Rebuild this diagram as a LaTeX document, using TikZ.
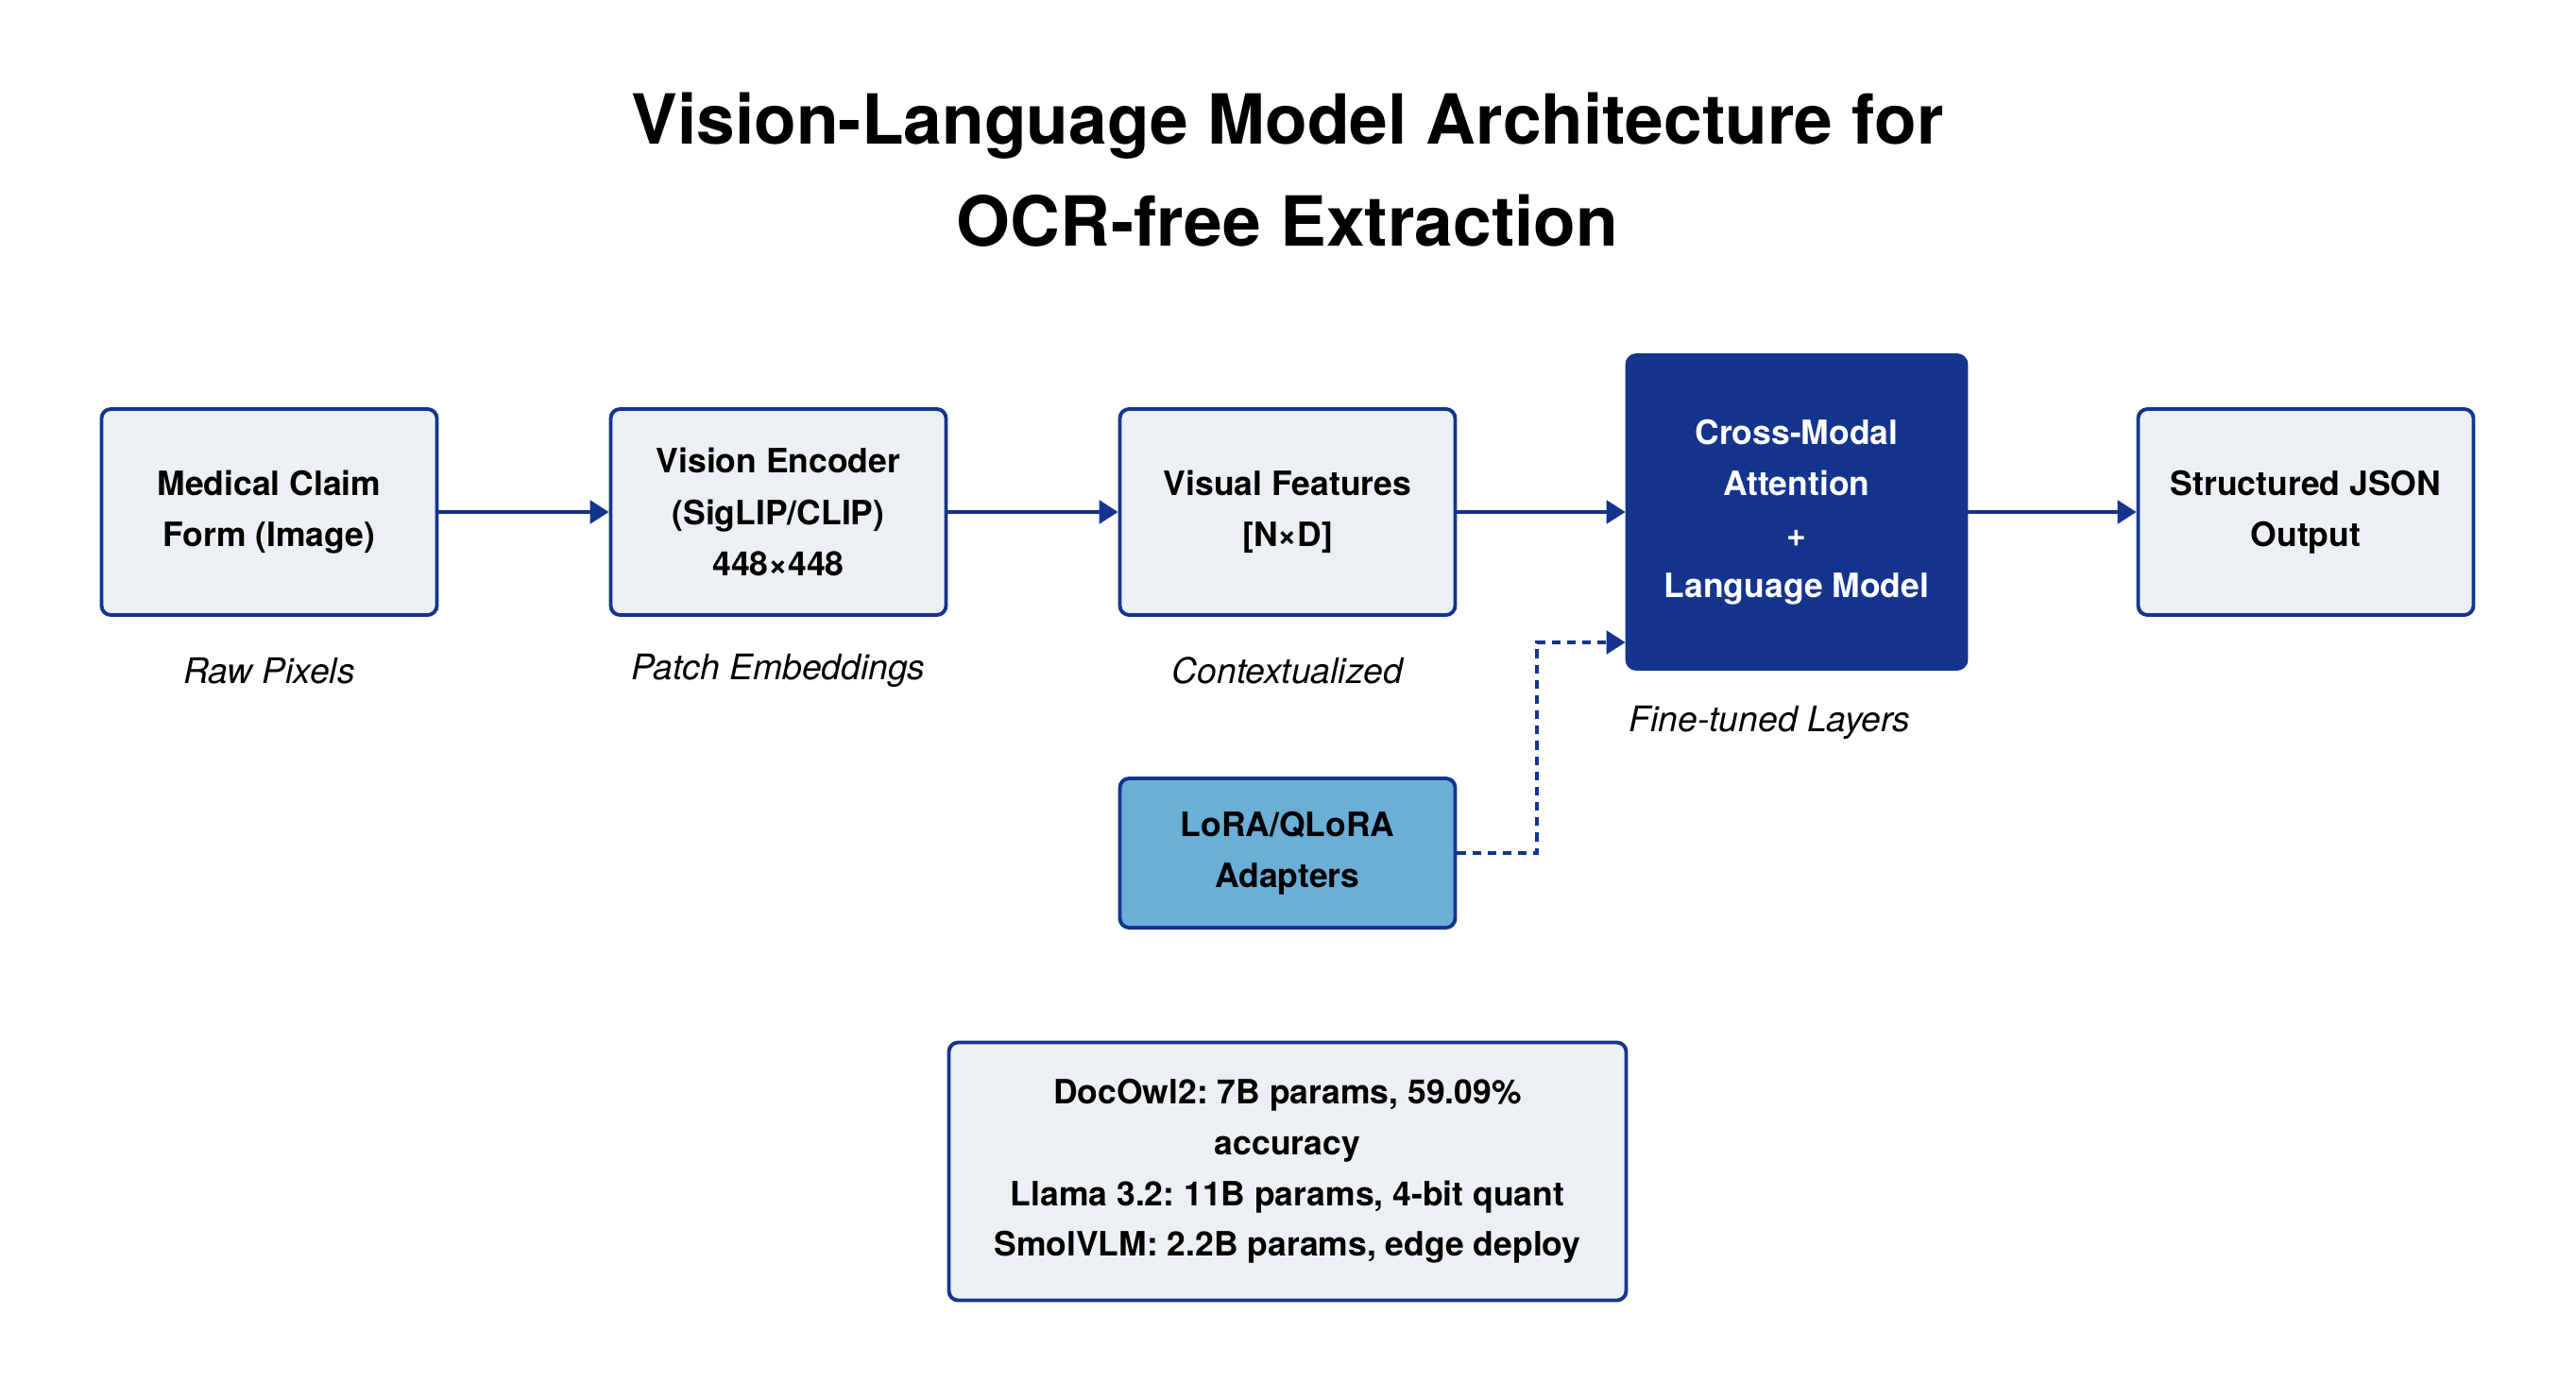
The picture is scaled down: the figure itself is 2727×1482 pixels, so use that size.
\documentclass[tikz,border=0pt]{standalone}
\usepackage{fontspec}
\setmainfont{TeX Gyre Heros}
\frenchspacing
\usetikzlibrary{arrows.meta}
\usetikzlibrary{positioning}
\definecolor{navy}{RGB}{20,52,142}
\definecolor{paleblue}{RGB}{236,240,243}
\definecolor{skyblue}{RGB}{107,174,214}
\tikzset{
	every path/.style={line width=1.1pt},
	title/.style={
		align=center,
		font=\bfseries\fontsize{20.8}{30.7}\selectfont,
	},
	stage/.style={
		draw=navy,
		fill=paleblue,
		rounded corners=2.8pt,
		minimum width=35.5mm,
		minimum height=21.8mm,
		align=center,
		font=\bfseries\fontsize{10.1}{15.4}\selectfont,
	},
	core/.style={
		stage,
		fill=navy,
		text=white,
		minimum width=35.9mm,
		minimum height=33.2mm,
	},
	adapter/.style={
		stage,
		fill=skyblue,
		minimum height=15.8mm,
	},
	info/.style={
		stage,
		minimum width=71.7mm,
		minimum height=27.3mm,
		font=\bfseries\fontsize{10.1}{15.3}\selectfont,
	},
	note/.style={font=\itshape\fontsize{10.6}{12}\selectfont},
	flow/.style={
		draw=navy,
		-{Triangle[length=5.7pt,width=7pt]}
	},
	inject/.style={
		flow,
		dash pattern=on 2.6pt off 2pt,
	},
}

\begin{document}
\begin{tikzpicture}[x=0.1mm,y=-0.1mm]
	\useasboundingbox (0,0) rectangle (2727,1482);

	\node[title] (title) at (1363,180) {Vision-Language Model Architecture for\\OCR-free Extraction};

	\node[stage]   (medical) at (285,542)  {Medical Claim\\Form (Image)};
	\node[stage]   (encoder) at (824,542)  {Vision Encoder\\(SigLIP/CLIP)\\448×448};
	\node[stage]   (visual)  at (1363,542) {Visual Features\\{[N×D]}};
	\node[core]    (cma)     at (1902,542) {Cross-Modal\\Attention\\+\\Language Model};
	\node[stage]   (json)    at (2441,542) {Structured JSON\\Output};
	\node[adapter] (lora)    at (1363,903) {LoRA/QLoRA\\Adapters};
	\node[info]    (models)  at (1363,1240) {DocOwl2: 7B params, 59.09\%\\accuracy\\Llama 3.2: 11B params, 4-bit quant\\SmolVLM: 2.2B params, edge deploy};

	\node[note] (rawpix)  at (285,710)  {Raw Pixels};
	\node[note] (patches) at (824,710)  {Patch Embeddings};
	\node[note] (context) at (1363,710) {Contextualized};
	\node[note, anchor=west] (tuned) at (1711,765) {Fine-tuned Layers};

	\draw[flow] (medical) -- (encoder);
	\draw[flow] (encoder) -- (visual);
	\draw[flow] (visual) -- (cma);
	\draw[flow] (cma) -- (json);

	\coordinate (bend) at (1627,680);
	\draw[inject] (lora.east) -| (bend) -- (bend -| cma.west);
\end{tikzpicture}
\end{document}
